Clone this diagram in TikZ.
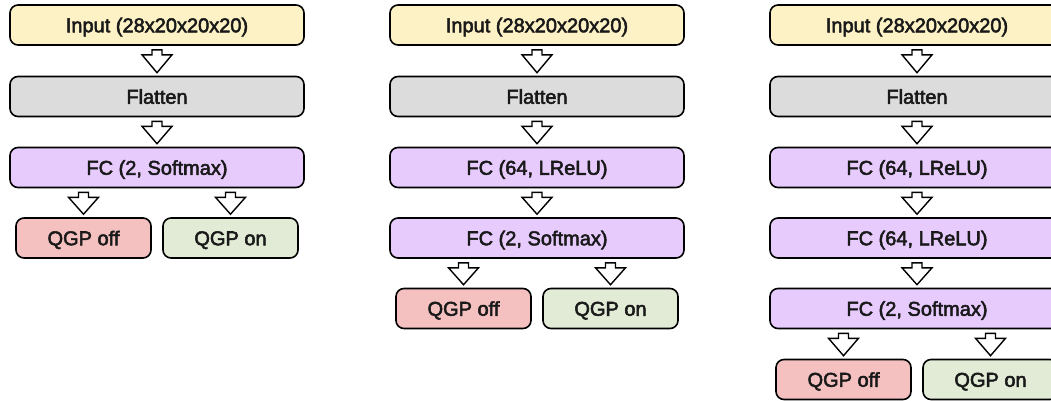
\documentclass[tikz,border=0pt]{standalone}
\usepackage{fontspec}
\setmainfont{Liberation Sans}
\newfontface\medfont{Liberation Sans}[FakeBold=2.6]
\usetikzlibrary{calc}
\definecolor{cin}{HTML}{FDF1C6}
\definecolor{cfl}{HTML}{DCDCDC}
\definecolor{cfc}{HTML}{E7CBFD}
\definecolor{coff}{HTML}{F4C0C0}
\definecolor{con}{HTML}{E1EBD5}
\tikzset{
  box/.style={draw=black, line width=1.6pt, rounded corners=8pt, minimum width=294pt, minimum height=40pt, inner sep=0pt, text height=14.5pt, text depth=0pt, font=\fontsize{20}{24}\medfont, text=black!90},
  outbox/.style={box, minimum width=135pt},
  barrow/.style={draw=black, fill=white, line width=1.4pt, line join=miter}
}
\newcommand\blockarr[2]{%
  \draw[barrow] let \p1=(#1.south), \p2=(#2.north) in
    (\x2-5pt,\y1-4pt) -- (\x2+5pt,\y1-4pt) -- (\x2+5pt,\y1-9pt) -- (\x2+15pt,\y1-9pt)
    -- (\x2,\y2+3pt) -- (\x2-15pt,\y1-9pt) -- (\x2-5pt,\y1-9pt) -- cycle;}
\begin{document}
\begin{tikzpicture}[x=1pt,y=-1pt]
\useasboundingbox (0,0) rectangle (1051,400);
% column 1 (left 10)
\node[box, fill=cin] (a1) at (157,25) {Input (28x20x20x20)};
\node[box, fill=cfl] (a2) at (157,96.5) {Flatten};
\node[box, fill=cfc] (a3) at (157,167.5) {FC (2, Softmax)};
\node[outbox, fill=coff] (a4) at (83.5,238) {QGP off};
\node[outbox, fill=con] (a5) at (230.5,238) {QGP on};
\blockarr{a1}{a2}
\blockarr{a2}{a3}
\blockarr{a3}{a4}
\blockarr{a3}{a5}
% column 2 (left 390)
\node[box, fill=cin] (b1) at (537,25) {Input (28x20x20x20)};
\node[box, fill=cfl] (b2) at (537,96.5) {Flatten};
\node[box, fill=cfc] (b3) at (537,167.5) {FC (64, LReLU)};
\node[box, fill=cfc] (b4) at (537,238) {FC (2, Softmax)};
\node[outbox, fill=coff] (b5) at (463.5,308.5) {QGP off};
\node[outbox, fill=con] (b6) at (610.5,308.5) {QGP on};
\blockarr{b1}{b2}
\blockarr{b2}{b3}
\blockarr{b3}{b4}
\blockarr{b4}{b5}
\blockarr{b4}{b6}
% column 3 (left 770)
\node[box, fill=cin] (c1) at (917,25) {Input (28x20x20x20)};
\node[box, fill=cfl] (c2) at (917,96.5) {Flatten};
\node[box, fill=cfc] (c3) at (917,167.5) {FC (64, LReLU)};
\node[box, fill=cfc] (c4) at (917,238) {FC (64, LReLU)};
\node[box, fill=cfc] (c5) at (917,308.5) {FC (2, Softmax)};
\node[outbox, fill=coff] (c6) at (843.5,379.5) {QGP off};
\node[outbox, fill=con] (c7) at (990.5,379.5) {QGP on};
\blockarr{c1}{c2}
\blockarr{c2}{c3}
\blockarr{c3}{c4}
\blockarr{c4}{c5}
\blockarr{c5}{c6}
\blockarr{c5}{c7}
\end{tikzpicture}
\end{document}
